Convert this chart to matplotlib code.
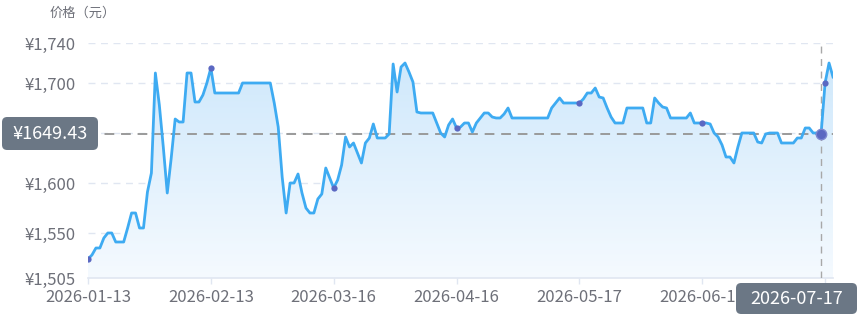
import matplotlib.pyplot as plt
import numpy as np
import pandas as pd
from matplotlib.patches import FancyBboxPatch

plt.rcParams['font.family'] = ['Noto Sans CJK SC', 'DejaVu Sans']

# 每日价格（从 2026-01-13 开始）
start_date = '2026-01-13'
prices = [
    1524, 1528, 1535, 1535, 1545, 1550, 1550, 1541, 1541, 1541,
    1555, 1570, 1570, 1555, 1555, 1591, 1610, 1710, 1678, 1636,
    1590, 1625, 1664, 1661, 1661, 1710, 1710, 1681, 1681, 1688,
    1700, 1715, 1690, 1690, 1690, 1690, 1690, 1690, 1690, 1700,
    1700, 1700, 1700, 1700, 1700, 1700, 1700, 1680, 1656, 1606,
    1570, 1600, 1600, 1609, 1590, 1575, 1570, 1570, 1584, 1589,
    1615, 1605, 1595, 1603, 1618, 1646, 1636, 1640, 1630, 1620,
    1640, 1645, 1659, 1645, 1645, 1645, 1649, 1719, 1691, 1716,
    1720, 1711, 1701, 1671, 1670, 1670, 1670, 1670, 1660, 1650,
    1646, 1658, 1664, 1655, 1656, 1660, 1660, 1651, 1660, 1665,
    1670, 1670, 1666, 1665, 1665, 1669, 1675, 1665, 1665, 1665,
    1665, 1665, 1665, 1665, 1665, 1665, 1665, 1675, 1680, 1685,
    1680, 1680, 1680, 1680, 1680, 1684, 1690, 1690, 1695, 1686,
    1685, 1675, 1666, 1660, 1660, 1660, 1675, 1675, 1675, 1675,
    1675, 1660, 1660, 1685, 1680, 1676, 1675, 1665, 1665, 1665,
    1665, 1665, 1670, 1660, 1660, 1660, 1660, 1659, 1650, 1646,
    1638, 1626, 1626, 1620, 1636, 1650, 1650, 1650, 1650, 1641,
    1640, 1649, 1650, 1650, 1650, 1640, 1640, 1640, 1640, 1645,
    1645, 1655, 1655, 1650, 1650, 1649.43, 1700, 1720, 1706,
]
y_ticks = [1505, 1550, 1600, 1650, 1700, 1740]
label_step = 31
hover_idx = 185

dates = pd.date_range(start_date, periods=len(prices)).strftime('%Y-%m-%d')
x = np.arange(len(prices))
y = np.array(prices, dtype=float)

W, H = 858, 315
fig = plt.figure(figsize=(W / 100, H / 100), dpi=100)
ax = fig.add_axes([88 / W, 1 - 278 / H, 745 / W, 235 / H])
ax.set_xlim(0, len(prices) - 1)
ax.set_ylim(y_ticks[0], y_ticks[-1])

grey = '#6e7079'
grid_c = '#e0e6f1'

# 网格线
for v in y_ticks[1:]:
    ax.axhline(v, color=grid_c, lw=1, ls=(0, (5, 4)), zorder=1)

# 渐变填充
poly = ax.fill_between(x, y, y_ticks[0], color='none', lw=0)
grad = np.zeros((100, 1, 4))
top_c = np.array([0.80, 0.905, 0.985])
bot_c = np.array([0.96, 0.98, 0.998])
t = np.linspace(0, 1, 100)[:, None]
grad[:, 0, :3] = top_c * (1 - t) + bot_c * t
grad[:, 0, 3] = 1
img = ax.imshow(grad, extent=[0, len(prices) - 1, y_ticks[0], y_ticks[-1]],
                aspect='auto', zorder=2, origin='upper')
img.set_clip_path(poly.get_paths()[0], transform=ax.transData)

# 折线
ax.plot(x, y, color='#3eabf2', lw=2, solid_joinstyle='round', zorder=4)

# 标记点
mk = x[::label_step]
ax.plot(mk, y[mk], 'o', color='#5b68c2', ms=4.5, mec='none', zorder=5)
ax.plot(hover_idx, y[hover_idx], 'o', color='#5b68c2', ms=7.5, mec='#7d88d0', mew=1, zorder=6)

# 十字准线
ax.axvline(hover_idx, color='#a8a8a8', lw=1, ls=(0, (5, 4)), zorder=3)
ax.axhline(y[hover_idx], color='#9a9a9a', lw=1.4, ls=(0, (5, 3.5)), zorder=3)

# 坐标轴
for s in ['top', 'right', 'left']:
    ax.spines[s].set_visible(False)
ax.spines['bottom'].set_color(grid_c)
ax.spines['bottom'].set_linewidth(1.2)

# 被十字准线标签遮住的刻度文字留空
ax.set_yticks(y_ticks)
ax.set_yticklabels(['' if v == 1650 else '¥{:,}'.format(v) for v in y_ticks])
ax.tick_params(axis='y', length=0, pad=9, labelsize=12, labelcolor=grey)

xlabels = list(dates[::label_step])
xlabels[-1] = ''
ax.set_xticks(mk)
ax.set_xticklabels(xlabels)
ax.tick_params(axis='x', length=4, width=1, color=grid_c, pad=4,
               labelsize=12, labelcolor=grey)

# 标题
fig.text(50 / W, 1 - 13 / H, '价格（元）', fontsize=9.5, color=grey, va='center', ha='left')

# 十字准线标签
box_c = '#6b7785'


def label_box(x0, y0, x1, y1, text):
    p = FancyBboxPatch((x0 / W, 1 - y1 / H), (x1 - x0) / W, (y1 - y0) / H,
                       boxstyle='round,pad=0,rounding_size=0.006',
                       transform=fig.transFigure, fc=box_c, ec='none', zorder=20,
                       mutation_aspect=W / H)
    fig.patches.append(p)
    fig.text((x0 + x1) / 2 / W, 1 - (y0 + y1) / 2 / H, text, color='white',
             fontsize=13, ha='center', va='center', zorder=21)


label_box(2, 117, 98, 150, '¥{:.2f}'.format(y[hover_idx]))
label_box(736, 283, 857, 314, dates[hover_idx])

fig.savefig('out.png', dpi=100)
